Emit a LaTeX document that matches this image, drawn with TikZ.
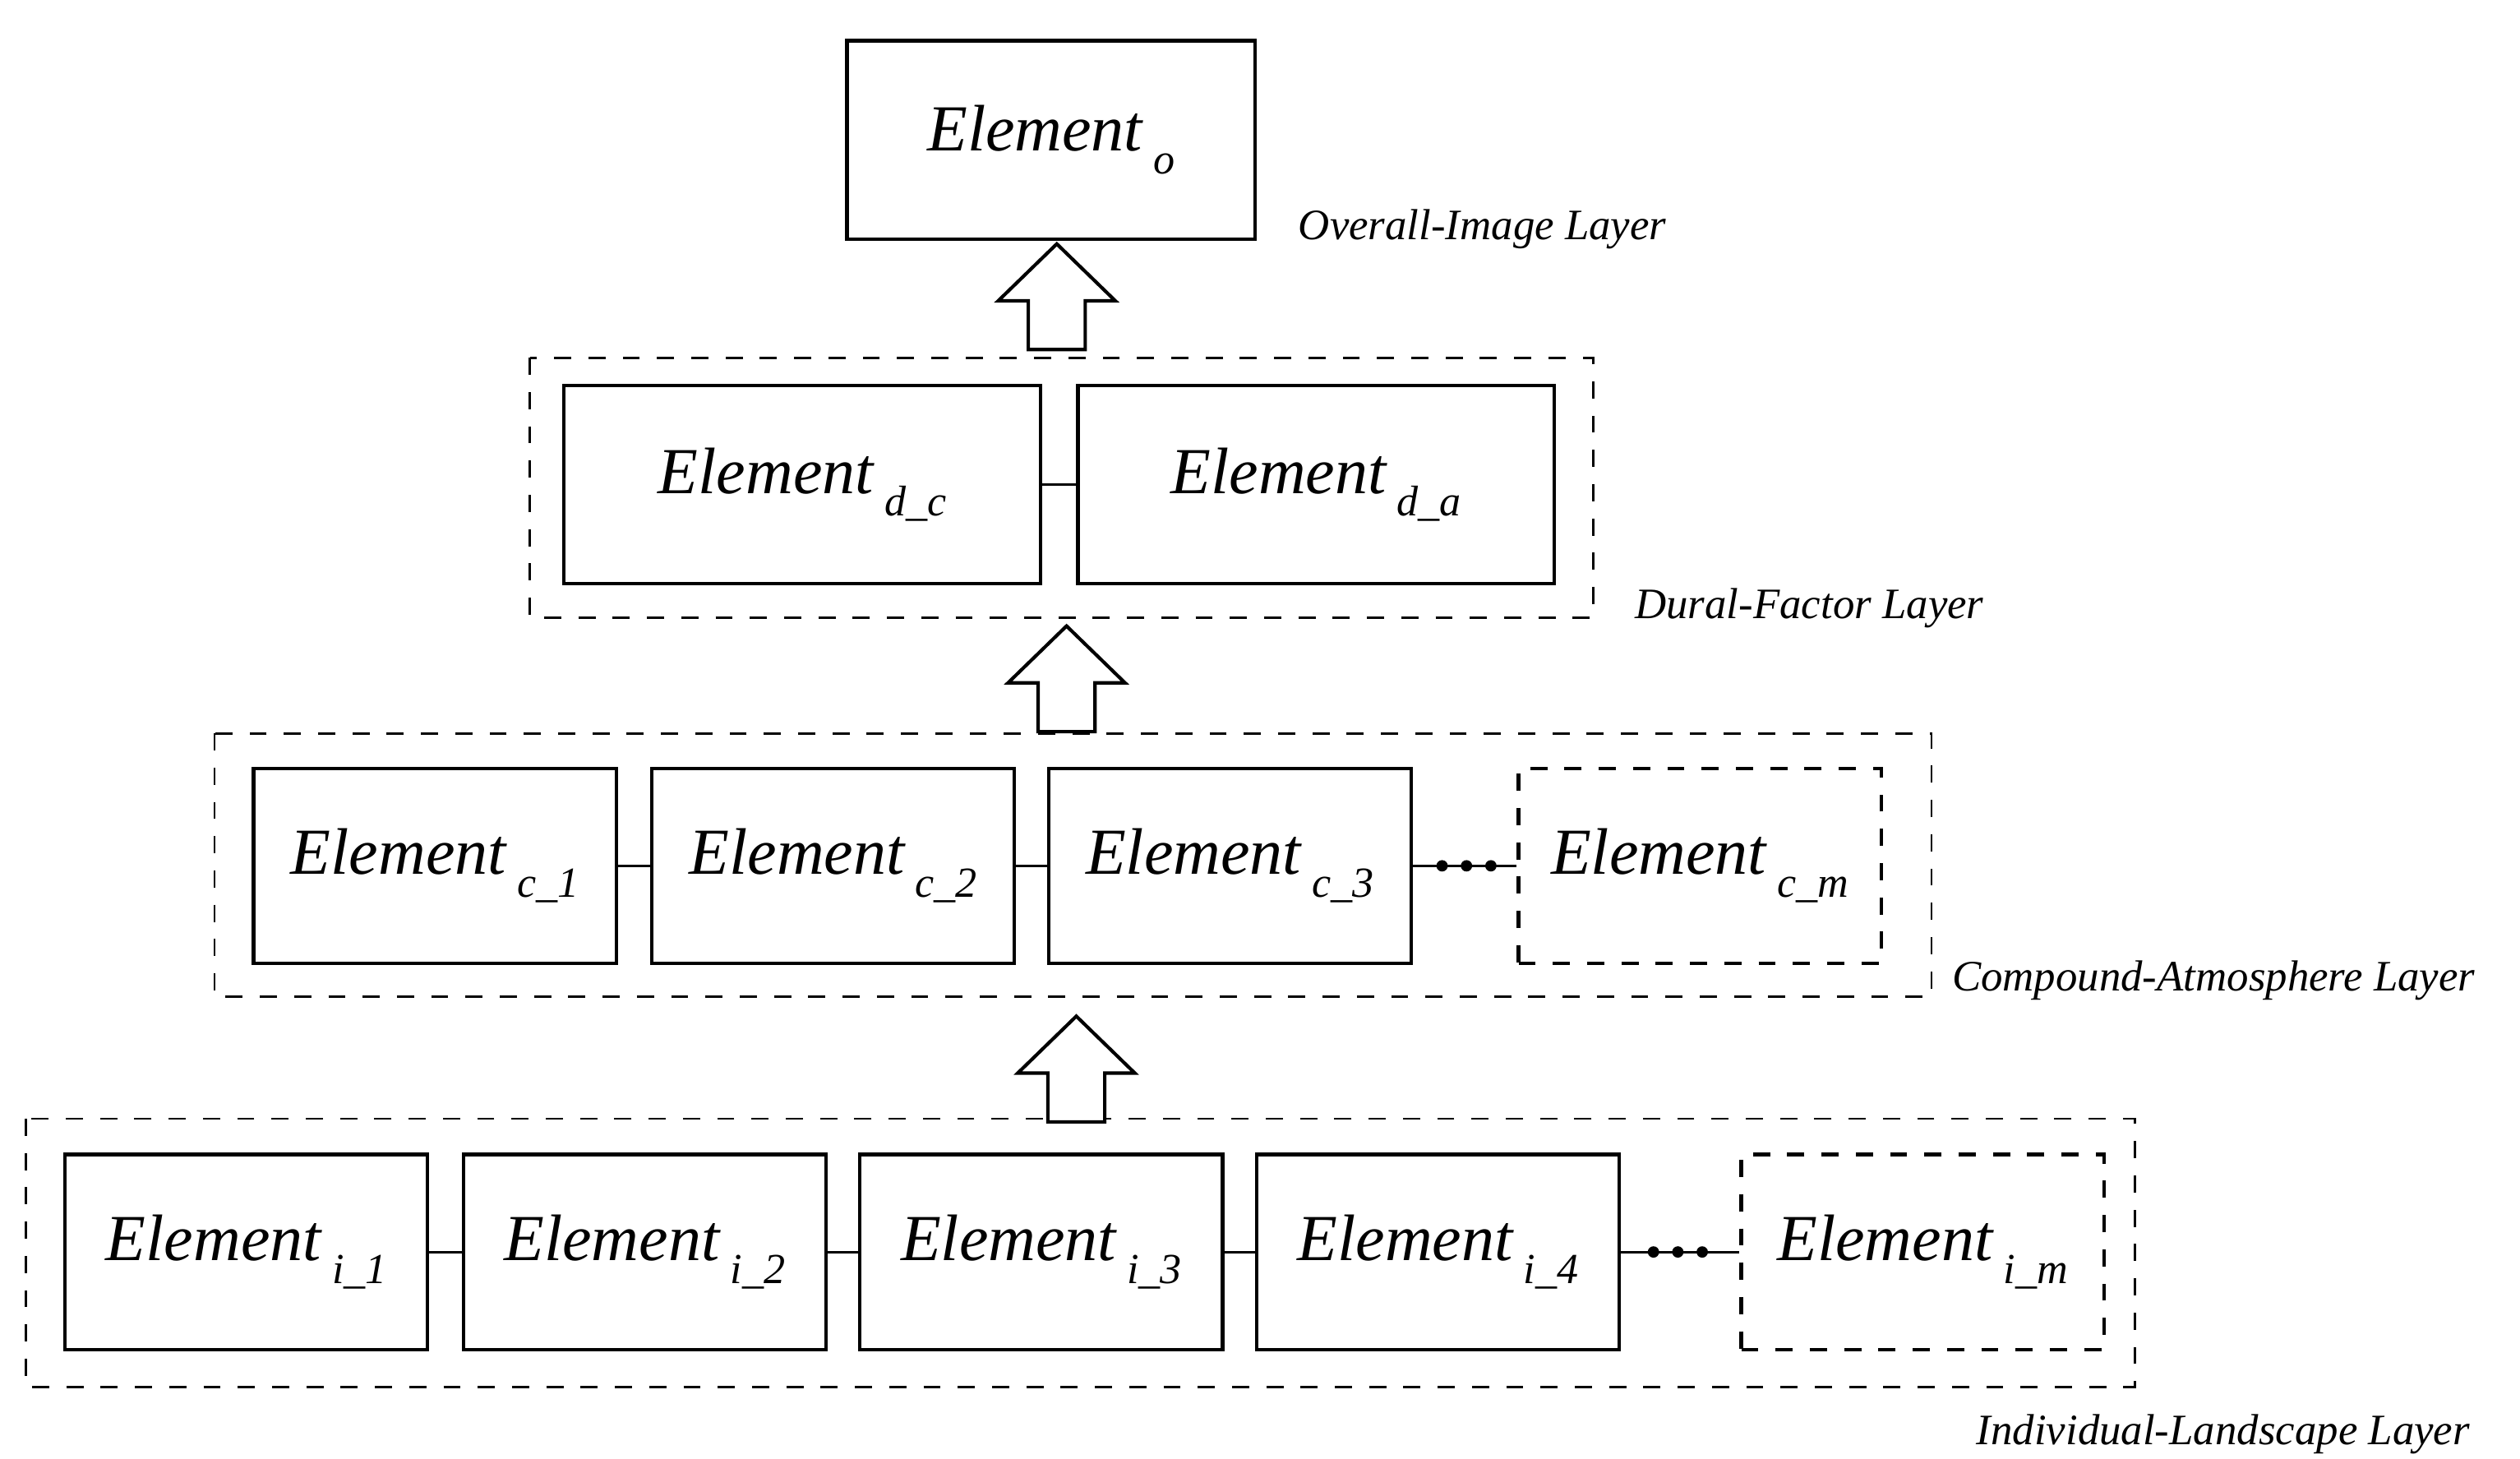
\documentclass[tikz,border=0pt]{standalone}
\usepackage{fontspec}
\setmainfont{Liberation Serif}
\usetikzlibrary{positioning}
\newcommand{\elem}[1]{\fontsize{11.5}{13}\selectfont\itshape Element\,\raisebox{-0.75ex}{\fontsize{7.5}{9}\selectfont #1}}
\tikzset{
  box/.style={draw,line width=0.6pt,minimum width=2.23cm,minimum height=1.2cm,inner sep=0pt},
  dbox/.style={box,dashed},
  layer/.style={draw,dashed,line width=0.4pt},
  lbl/.style={font=\fontsize{7.6}{9}\selectfont\itshape,anchor=west,inner sep=0pt},
  blk/.style={draw,line width=0.6pt,fill=white}
}
\newcommand{\blkarrow}[2]{% x, y of bottom
  \draw[blk] (#1-0.175,#2) -- (#1+0.175,#2) -- (#1+0.175,#2+0.30) -- (#1+0.36,#2+0.30)
    -- (#1,#2+0.65) -- (#1-0.36,#2+0.30) -- (#1-0.175,#2+0.30) -- cycle;}
\begin{document}
\begin{tikzpicture}
   \useasboundingbox (0,0) rectangle (15.5,-8.97);
   % overall-image layer
   \node[box,minimum width=2.51cm,minimum height=1.22cm] (o) at (6.465,-0.86) {\elem{o}};
   \node[lbl] (lo) at (7.98,-1.41) {Overall-Image Layer};
   % dural-factor layer
   \draw[layer] (3.26,-2.20) rectangle (9.80,-3.80);
   \node[box,minimum width=2.93cm,minimum height=1.22cm] (dc) at (4.935,-2.98) {\elem{d\_c}};
   \node[box,minimum width=2.93cm,minimum height=1.22cm] (da) at (8.095,-2.98) {\elem{d\_a}};
   \draw (dc) -- (da);
   \node[lbl] (ld) at (10.05,-3.74) {Dural-Factor Layer};
   % compound-atmosphere layer
   \draw[layer] (1.32,-4.51) rectangle (11.88,-6.13);
   \node[box] (c1) at (2.675,-5.325) {\elem{c\_1}};
   \node[box] (c2) at (5.125,-5.325) {\elem{c\_2}};
   \node[box] (c3) at (7.565,-5.325) {\elem{c\_3}};
   \node[dbox] (cm) at (10.455,-5.325) {\elem{c\_m}};
   \draw (c1) -- (c2);
   \draw (c2) -- (c3);
   \draw (c3) -- (cm);
   \foreach \x in {8.87,9.02,9.17} \fill (\x,-5.325) circle (0.035);
   \node[lbl] (lc) at (12.00,-6.03) {Compound-Atmosphere Layer};
   % individual-landscape layer
   \draw[layer] (0.16,-6.88) rectangle (13.13,-8.53);
   \node[box] (i1) at (1.515,-7.70) {\elem{i\_1}};
   \node[box] (i2) at (3.965,-7.70) {\elem{i\_2}};
   \node[box] (i3) at (6.405,-7.70) {\elem{i\_3}};
   \node[box] (i4) at (8.845,-7.70) {\elem{i\_4}};
   \node[dbox] (im) at (11.825,-7.70) {\elem{i\_m}};
   \draw (i1) -- (i2);
   \draw (i2) -- (i3);
   \draw (i3) -- (i4);
   \draw (i4) -- (im);
   \foreach \x in {10.17,10.32,10.47} \fill (\x,-7.70) circle (0.035);
   \node[lbl] (li) at (12.15,-8.82) {Individual-Landscape Layer};
   % block arrows between layers
   \blkarrow{6.50}{-2.15}
   \blkarrow{6.56}{-4.50}
   \blkarrow{6.62}{-6.90}
\end{tikzpicture}
\end{document}
